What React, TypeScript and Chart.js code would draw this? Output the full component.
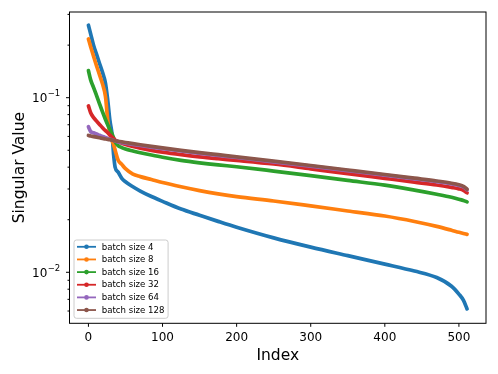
import React, { useEffect, useRef } from "react";
import { Chart, registerables } from "chart.js";

Chart.register(...registerables);

const INDEX = [0, 3, 7, 11, 15, 19, 23, 26, 29, 32, 34, 36, 40, 45, 50, 60, 70, 85, 100, 125, 150, 175, 200, 250, 300, 350, 400, 440, 470, 490, 500, 506, 511];

const BS4 = [0.260, 0.232, 0.199, 0.177, 0.157, 0.1396, 0.121, 0.097, 0.074, 0.061, 0.047, 0.040, 0.0375, 0.0345, 0.0330, 0.0309, 0.0292, 0.02716, 0.02547, 0.02301, 0.02121, 0.01957, 0.01811, 0.01574, 0.01393, 0.01245, 0.01114, 0.01016, 0.00933, 0.00832, 0.00750, 0.00692, 0.00617];
const BS8 = [0.217, 0.196, 0.172, 0.152, 0.135, 0.120, 0.1015, 0.0745, 0.0616, 0.0566, 0.0537, 0.0502, 0.0440, 0.0415, 0.0392, 0.03648, 0.03532, 0.03396, 0.03266, 0.0309, 0.02938, 0.02812, 0.0271, 0.0256, 0.0240, 0.02245, 0.0210, 0.01954, 0.01831, 0.0174, 0.01694, 0.01669, 0.01648];
const BS16 = [0.143, 0.1265, 0.1143, 0.1028, 0.0923, 0.0829, 0.0750, 0.0700, 0.0658, 0.0618, 0.0589, 0.0560, 0.0532, 0.0518, 0.0508, 0.04955, 0.04842, 0.04694, 0.04560, 0.04375, 0.04236, 0.04121, 0.04023, 0.0380, 0.0358, 0.0336, 0.03155, 0.02955, 0.0280, 0.0269, 0.0262, 0.0258, 0.0253];
const BS32 = [0.0897, 0.0820, 0.0769, 0.0734, 0.0703, 0.0673, 0.0647, 0.0631, 0.0611, 0.0594, 0.0583, 0.0572, 0.0561, 0.0548, 0.0539, 0.05248, 0.05134, 0.04994, 0.04875, 0.04715, 0.04581, 0.04472, 0.04375, 0.04169, 0.03913, 0.03673, 0.03451, 0.03283, 0.03162, 0.03062, 0.03006, 0.02951, 0.02851];
const BS64 = [0.06823, 0.06404, 0.06295, 0.06196, 0.06091, 0.05995, 0.05909, 0.05847, 0.05785, 0.05732, 0.05694, 0.05657, 0.05576, 0.05531, 0.05488, 0.05402, 0.05324, 0.05214, 0.05112, 0.04951, 0.04803, 0.04671, 0.04545, 0.04294, 0.04052, 0.03819, 0.03598, 0.03427, 0.03303, 0.03208, 0.03142, 0.03080, 0.02968];
const BS128 = [0.06074, 0.06034, 0.05987, 0.05940, 0.05893, 0.05847, 0.05801, 0.05771, 0.05740, 0.05710, 0.05688, 0.05664, 0.05628, 0.05583, 0.05539, 0.05452, 0.05373, 0.05262, 0.05159, 0.04997, 0.04848, 0.04715, 0.04587, 0.04334, 0.04090, 0.03855, 0.03632, 0.03459, 0.03334, 0.03238, 0.03171, 0.03109, 0.02988];

const SERIES = [BS4, BS8, BS16, BS32, BS64, BS128];
const LABELS = ["batch size 4", "batch size 8", "batch size 16", "batch size 32", "batch size 64", "batch size 128"];
const COLORS = ["#1f77b4", "#ff7f0e", "#2ca02c", "#d62728", "#9467bd", "#8c564b"];

const X_TICKS = [0, 100, 200, 300, 400, 500];
const Y_MAJOR = [0.01, 0.1];
const Y_MAJOR_EXP = ["−2", "−1"];
const Y_MINOR = [0.006, 0.007, 0.008, 0.009, 0.02, 0.03, 0.04, 0.05, 0.06, 0.07, 0.08, 0.09, 0.2, 0.3];

const X_MIN = -25.55;
const X_MAX = 536.55;
const Y_MIN = 0.005103;
const Y_MAX = 0.3096;

const FONT = "'DejaVu Sans', sans-serif";

const decorPlugin = {
  id: "decor",
  beforeDraw(chart: any) {
    const ctx = chart.ctx;
    ctx.save();
    ctx.fillStyle = "#ffffff";
    ctx.fillRect(0, 0, chart.width, chart.height);
    ctx.restore();
  },
  afterDraw(chart: any) {
    const ctx = chart.ctx as CanvasRenderingContext2D;
    const a = chart.chartArea;
    const xs = chart.scales.x;
    const ys = chart.scales.y;
    ctx.save();
    // frame
    ctx.strokeStyle = "#000";
    ctx.lineWidth = 1;
    ctx.strokeRect(a.left, a.top, a.right - a.left, a.bottom - a.top);

    // x ticks
    ctx.fillStyle = "#000";
    ctx.font = `12px ${FONT}`;
    ctx.textAlign = "center";
    ctx.textBaseline = "alphabetic";
    X_TICKS.forEach((v) => {
      const px = xs.getPixelForValue(v);
      ctx.beginPath();
      ctx.moveTo(px, a.bottom);
      ctx.lineTo(px, a.bottom + 3.5);
      ctx.stroke();
      ctx.fillText(String(v), px, a.bottom + 17.4);
    });

    // y ticks
    Y_MINOR.forEach((v) => {
      const py = ys.getPixelForValue(v);
      ctx.beginPath();
      ctx.moveTo(a.left, py);
      ctx.lineTo(a.left - 2, py);
      ctx.stroke();
    });
    Y_MAJOR.forEach((v, i) => {
      const py = ys.getPixelForValue(v);
      ctx.beginPath();
      ctx.moveTo(a.left, py);
      ctx.lineTo(a.left - 3.5, py);
      ctx.stroke();
      const right = a.left - 9.3;
      ctx.textAlign = "left";
      ctx.font = `8.5px ${FONT}`;
      const ew = ctx.measureText(Y_MAJOR_EXP[i]).width;
      ctx.font = `12px ${FONT}`;
      const bw = ctx.measureText("10").width;
      const x0 = right - ew - bw - 0.3;
      ctx.fillText("10", x0, py + 4.4);
      ctx.font = `8.5px ${FONT}`;
      ctx.fillText(Y_MAJOR_EXP[i], x0 + bw + 0.3, py - 1.2);
    });

    // axis titles
    ctx.font = `15.5px ${FONT}`;
    ctx.textAlign = "center";
    ctx.textBaseline = "alphabetic";
    ctx.fillText("Index", (a.left + a.right) / 2, 360);
    ctx.save();
    ctx.translate(24.3, (a.top + a.bottom) / 2);
    ctx.rotate(-Math.PI / 2);
    ctx.fillText("Singular Value", 0, 0);
    ctx.restore();

    // legend
    ctx.font = `8.6px ${FONT}`;
    let maxW = 0;
    LABELS.forEach((l) => {
      maxW = Math.max(maxW, ctx.measureText(l).width);
    });
    const bx = a.left + 4.5;
    const by = 240;
    const handleX0 = bx + 3;
    const handleX1 = bx + 22;
    const textX = bx + 27.7;
    const bw2 = textX - bx + maxW + 3.6;
    const bh = 78.3;
    const r = 2.5;
    ctx.beginPath();
    ctx.moveTo(bx + r, by);
    ctx.lineTo(bx + bw2 - r, by);
    ctx.arcTo(bx + bw2, by, bx + bw2, by + r, r);
    ctx.lineTo(bx + bw2, by + bh - r);
    ctx.arcTo(bx + bw2, by + bh, bx + bw2 - r, by + bh, r);
    ctx.lineTo(bx + r, by + bh);
    ctx.arcTo(bx, by + bh, bx, by + bh - r, r);
    ctx.lineTo(bx, by + r);
    ctx.arcTo(bx, by, bx + r, by, r);
    ctx.closePath();
    ctx.fillStyle = "rgba(255,255,255,0.8)";
    ctx.fill();
    ctx.strokeStyle = "#cccccc";
    ctx.lineWidth = 1;
    ctx.stroke();

    ctx.textAlign = "left";
    ctx.textBaseline = "middle";
    LABELS.forEach((l, i) => {
      const cy = 246.8 + i * 12.65;
      ctx.strokeStyle = COLORS[i];
      ctx.lineWidth = 1.8;
      ctx.beginPath();
      ctx.moveTo(handleX0, cy);
      ctx.lineTo(handleX1, cy);
      ctx.stroke();
      ctx.fillStyle = COLORS[i];
      ctx.beginPath();
      ctx.arc((handleX0 + handleX1) / 2, cy, 2.3, 0, Math.PI * 2);
      ctx.fill();
      ctx.fillStyle = "#000";
      ctx.fillText(l, textX, cy + 0.5);
    });
    ctx.restore();
  },
};

export default function App() {
  const ref = useRef<HTMLCanvasElement | null>(null);
  useEffect(() => {
    if (!ref.current) return;
    const datasets = SERIES.map((vals, i) => ({
      label: LABELS[i],
      data: INDEX.map((x, j) => ({ x, y: vals[j] })),
      borderColor: COLORS[i],
      backgroundColor: COLORS[i],
      borderWidth: 3.7,
      pointRadius: 0,
      cubicInterpolationMode: "monotone" as const,
      borderCapStyle: "round" as const,
      borderJoinStyle: "round" as const,
      order: SERIES.length - i,
    }));
    const chart = new Chart(ref.current, {
      type: "line",
      data: { datasets },
      options: {
        responsive: false,
        animation: false,
        events: [],
        layout: { padding: { left: 69.5, right: 12, top: 12, bottom: 50.7 } },
        scales: {
          x: { type: "linear", min: X_MIN, max: X_MAX, display: false, bounds: "data" },
          y: { type: "logarithmic", min: Y_MIN, max: Y_MAX, display: false, bounds: "data" },
        },
        plugins: { legend: { display: false }, tooltip: { enabled: false } },
      },
      plugins: [decorPlugin],
    });
    return () => chart.destroy();
  }, []);
  return (
    <div style={{ position: "fixed", left: 0, top: 0, width: 498, height: 374, background: "#fff" }}>
      <canvas ref={ref} width={498} height={374} style={{ display: "block", width: 498, height: 374 }} />
    </div>
  );
}
